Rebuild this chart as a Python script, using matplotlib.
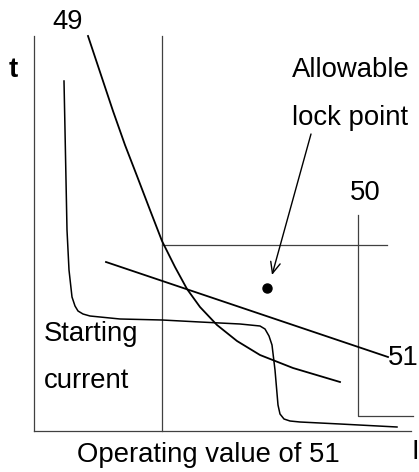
import matplotlib
matplotlib.use("Agg")
import matplotlib.pyplot as plt

plt.rcParams['font.family'] = ['Liberation Sans', 'DejaVu Sans']

# Curve "49" (inverse-time characteristic)
c49_x = [54, 66, 79, 91, 103, 116, 128, 141, 153, 166, 183, 203, 226, 259, 306]
c49_t = [395, 359, 320, 286, 255, 221, 190, 164, 142, 124, 106, 90, 76, 63, 49]

# Starting current curve
cs_x = [30, 31, 32, 33, 35, 38, 41, 44, 49, 56, 86, 128, 166, 206, 226, 231, 235, 238, 241, 244, 246, 250, 256, 266, 306, 363]
cs_t = [350, 301, 251, 201, 161, 134, 125, 120, 117, 115, 112, 111, 109, 107, 105, 102, 95, 86, 61, 26, 17, 12, 10, 9, 7, 4]

# Line "51"
c51_x = [72, 354]
c51_t = [169, 74]

# Operating value of 51 (vertical), horizontal level
op_x = 128
op_level_t = 186
op_level_xend = 353

# "50" characteristic
c50_x = [324, 324, 379]
c50_t = [216, 15, 15]

# Allowable lock point
lock_x = 233
lock_t = 143

XMAX, TMAX = 377, 395
FS = 19.8

fig = plt.figure(figsize=(4.19, 4.72), dpi=100)
ax = fig.add_axes([34/419, 41/472, 377/419, 395/472])
ax.set_xlim(0, XMAX)
ax.set_ylim(0, TMAX)
for s in ['top', 'right']:
    ax.spines[s].set_visible(False)
for s in ['left', 'bottom']:
    ax.spines[s].set_color('#404040')
    ax.spines[s].set_linewidth(0.9)
ax.set_xticks([])
ax.set_yticks([])

gray = '#404040'
ax.plot([op_x, op_x], [0, TMAX], color=gray, lw=0.9, clip_on=False)
ax.plot([op_x, op_level_xend], [op_level_t, op_level_t], color=gray, lw=0.9)
ax.plot(c50_x, c50_t, color=gray, lw=0.9, clip_on=False)

ax.plot(c49_x, c49_t, color='black', lw=1.3, clip_on=False)
ax.plot(cs_x, cs_t, color='black', lw=1.1, clip_on=False)
ax.plot(c51_x, c51_t, color='black', lw=1.3, clip_on=False)

ax.plot([lock_x], [lock_t], 'o', color='black', markersize=6.5)
ax.annotate('', xy=(238, 156), xytext=(277, 297),
            arrowprops=dict(arrowstyle='->,head_length=0.8,head_width=0.35',
                            color='black', lw=1.0, shrinkA=0, shrinkB=0))

def txt(x, y, s, **kw):
    ax.text(x, y, s, fontsize=FS, va='baseline', ha='left', clip_on=False, **kw)

txt(18, 402, '49')
txt(-25, 354, 't', fontweight='bold')
txt(258, 354, 'Allowable')
txt(258, 306, 'lock point')
txt(316, 231, '50')
txt(354, 66, '51')
txt(10, 90, 'Starting')
txt(10, 43, 'current')
txt(43, -31, 'Operating value of 51')
txt(378, -28, 'I')

fig.savefig('out.png', dpi=100)
